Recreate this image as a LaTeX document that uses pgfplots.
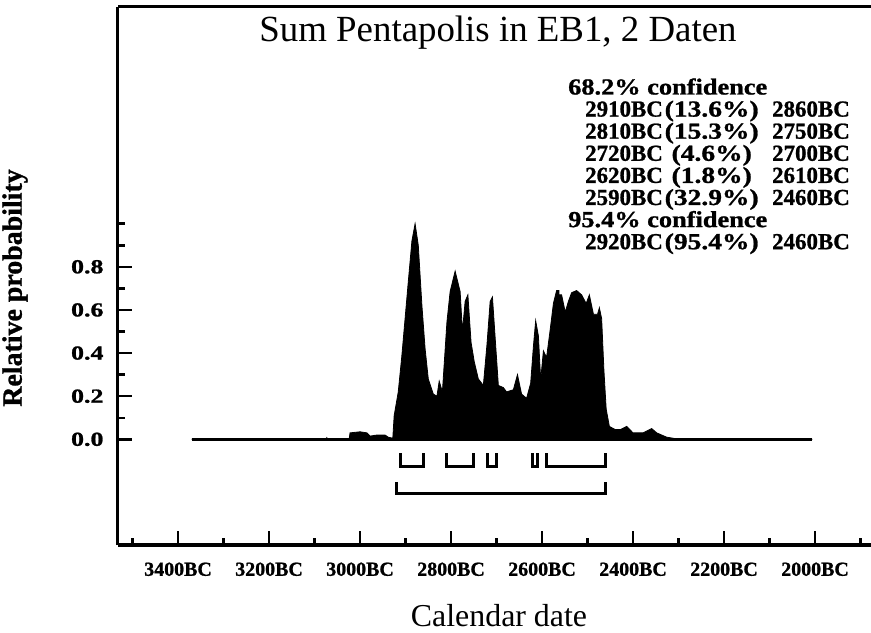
\documentclass[border=0pt]{standalone}
\usepackage{fontspec}
\setmainfont{Liberation Serif}
\newfontfamily\heavyfont{Liberation Serif}[BoldFeatures={FakeBold=1}]
\usepackage{pgfplots}
\pgfplotsset{compat=1.18}
\usepackage{pgfplotstable}
\pgfplotstableread{
year prob
3370 0
3075 0
3073 0.008
3071 0
3024 0
3022 0.03
3000 0.035
2985 0.03
2978 0.015
2963 0.02
2945 0.02
2938 0.01
2928 0.005
2925 0.11
2916 0.22
2908 0.39
2901 0.56
2894 0.73
2886 0.92
2879 1.00
2872 0.90
2864 0.62
2857 0.42
2850 0.28
2839 0.21
2831 0.20
2826 0.27
2819 0.22
2809 0.545
2802 0.685
2791 0.78
2780 0.685
2775 0.50
2769 0.64
2763 0.67
2756 0.45
2749 0.36
2740 0.28
2729 0.25
2721 0.44
2714 0.64
2709 0.66
2703 0.47
2696 0.25
2685 0.24
2678 0.22
2663 0.23
2654 0.30
2645 0.21
2634 0.19
2625 0.26
2619 0.43
2614 0.55
2608 0.48
2603 0.275
2597 0.41
2590 0.38
2582 0.51
2575 0.63
2568 0.69
2563 0.69
2562.5 0
2561.5 0
2561 0.67
2557 0.67
2549 0.59
2542 0.64
2535 0.68
2524 0.69
2513 0.67
2503 0.63
2496 0.67
2487 0.58
2478 0.58
2474 0.61
2469 0.56
2464 0.32
2459 0.14
2452 0.06
2439 0.045
2428 0.045
2414 0.06
2400 0.03
2378 0.03
2359 0.05
2348 0.03
2326 0.01
2297 0
2006 0
}\sumdata
\newcommand{\wide}[1]{\scalebox{1.15}[1]{#1}}
\newcommand{\midw}[1]{\scalebox{1.2}[1]{#1}}
\begin{document}
\begin{tikzpicture}
\useasboundingbox (-118bp,-88bp) rectangle (753bp,545bp);
\begin{axis}[
  at={(0,0)}, anchor=south west,
  scale only axis, width=753bp, height=538bp,
  x dir=reverse, xmin=1877, xmax=3532, ymin=-0.49, ymax=2.005,
  axis lines=left, axis line style={-, line width=3bp},
  xtick={2000,2200,2400,2600,2800,3000,3200,3400},
  xticklabels={2000BC,2200BC,2400BC,2600BC,2800BC,3000BC,3200BC,3400BC},
  minor xtick={1900,2100,2300,2500,2700,2900,3100,3300,3500},
  ytick={0,0.2,0.4,0.6,0.8},
  yticklabels={\scalebox{1.3}[1]{0.0},\scalebox{1.3}[1]{0.2},\scalebox{1.3}[1]{0.4},\scalebox{1.3}[1]{0.6},\scalebox{1.3}[1]{0.8}},
  minor ytick={0.1,0.3,0.5,0.7,0.9,1.0},
  tick align=inside, major tick length=14bp, minor tick length=7bp,
  tick style={black, line width=2.5bp},
  xticklabel style={font=\heavyfont\bfseries\fontsize{20}{24}\selectfont, yshift=-14bp},
  yticklabel style={font=\heavyfont\bfseries\fontsize{20}{24}\selectfont, xshift=-11bp},
  clip=false,
]
\addplot[fill=black, draw=black, line width=0.8bp] table[x=year, y=prob] {\sumdata};
\addplot[black, line width=3.5bp] coordinates {(3370,0) (2006,0)};
% 68.2% ranges
\addplot[black, line width=3bp] coordinates {(2910,-0.065) (2910,-0.127) (2860,-0.127) (2860,-0.065)};
\addplot[black, line width=3bp] coordinates {(2810,-0.065) (2810,-0.127) (2750,-0.127) (2750,-0.065)};
\addplot[black, line width=3bp] coordinates {(2720,-0.065) (2720,-0.127) (2700,-0.127) (2700,-0.065)};
\addplot[black, line width=3bp] coordinates {(2620,-0.065) (2620,-0.127) (2610,-0.127) (2610,-0.065)};
\addplot[black, line width=3bp] coordinates {(2590,-0.065) (2590,-0.127) (2460,-0.127) (2460,-0.065)};
% 95.4% range
\addplot[black, line width=3bp] coordinates {(2920,-0.197) (2920,-0.25) (2460,-0.25) (2460,-0.197)};
\end{axis}
\draw[line width=3bp] (0,538bp) -- (753bp,538bp);
\node[anchor=base, inner sep=0, font=\fontsize{37}{40}\selectfont] at (380bp,503bp) {Sum Pentapolis in EB1, 2 Daten};
\begin{scope}[every node/.style={inner sep=0, font=\heavyfont\bfseries\fontsize{23}{24}\selectfont}]
\node[anchor=base west] at (450bp,450.5bp) {\wide{68.2\% confidence}};
\node[anchor=base west] at (467bp,428.4bp) {2910BC};
\node[anchor=base] at (593.7bp,428.4bp) {\midw{(13.6\%)}};
\node[anchor=base east] at (732bp,428.4bp) {2860BC};
\node[anchor=base west] at (467bp,406.3bp) {2810BC};
\node[anchor=base] at (593.7bp,406.3bp) {\midw{(15.3\%)}};
\node[anchor=base east] at (732bp,406.3bp) {2750BC};
\node[anchor=base west] at (467bp,384.2bp) {2720BC};
\node[anchor=base] at (593.7bp,384.2bp) {\midw{(4.6\%)}};
\node[anchor=base east] at (732bp,384.2bp) {2700BC};
\node[anchor=base west] at (467bp,362.1bp) {2620BC};
\node[anchor=base] at (593.7bp,362.1bp) {\midw{(1.8\%)}};
\node[anchor=base east] at (732bp,362.1bp) {2610BC};
\node[anchor=base west] at (467bp,340.0bp) {2590BC};
\node[anchor=base] at (593.7bp,340.0bp) {\midw{(32.9\%)}};
\node[anchor=base east] at (732bp,340.0bp) {2460BC};
\node[anchor=base west] at (450bp,317.9bp) {\wide{95.4\% confidence}};
\node[anchor=base west] at (467bp,295.8bp) {2920BC};
\node[anchor=base] at (593.7bp,295.8bp) {\midw{(95.4\%)}};
\node[anchor=base east] at (732bp,295.8bp) {2460BC};
\end{scope}
\node[anchor=base, inner sep=0, font=\fontsize{32}{36}\selectfont] at (381bp,-81bp) {Calendar date};
\node[rotate=90, inner sep=0, font=\heavyfont\bfseries\fontsize{28}{30}\selectfont] at (-103bp,257bp) {Relative probability};
\end{tikzpicture}
\end{document}
